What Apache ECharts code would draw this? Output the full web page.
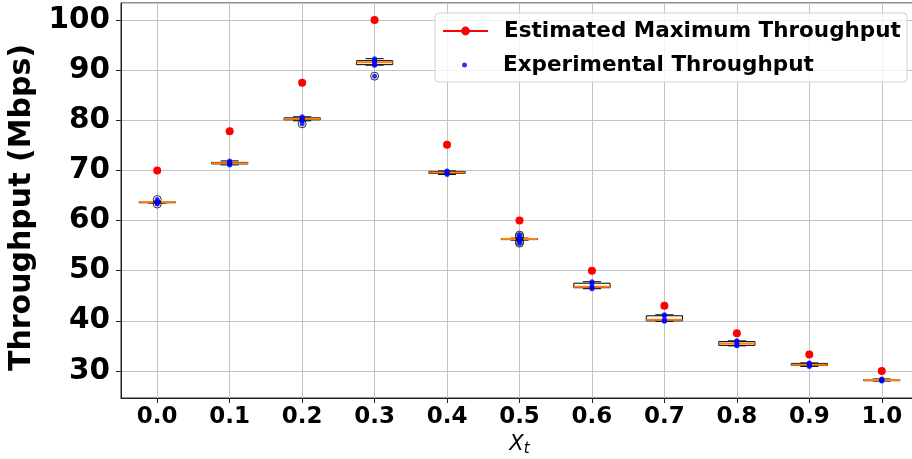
<!DOCTYPE html>
<html>
<head>
<meta charset="utf-8">
<script src="https://cdn.jsdelivr.net/npm/echarts@6/dist/echarts.min.js"></script>
<style>
  html, body { margin: 0; padding: 0; background: #fff; }
  #main { width: 912px; height: 459px; }
</style>
</head>
<body>
<div id="main"></div>
<script>
// x positions (X_t)
var xLabels = ['0.0', '0.1', '0.2', '0.3', '0.4', '0.5', '0.6', '0.7', '0.8', '0.9', '1.0'];

// estimated maximum throughput (red dots)
var estMax = [70.0, 77.8, 87.5, 100.0, 75.1, 60.0, 50.0, 43.0, 37.5, 33.3, 30.0];

// box plot stats of the experimental runs
var boxLow  = [63.5, 71.1, 79.9, 91.0, 69.2, 56.1, 46.4, 39.9, 35.0, 30.9, 28.0];
var boxQ1   = [63.6, 71.3, 80.1, 91.1, 69.4, 56.2, 46.6, 40.0, 35.1, 31.1, 28.1];
var boxMed  = [63.7, 71.45, 80.3, 91.6, 69.6, 56.3, 46.8, 40.2, 35.45, 31.25, 28.2];
var boxQ3   = [63.75, 71.6, 80.5, 91.9, 69.8, 56.4, 47.5, 41.0, 35.85, 31.5, 28.25];
var boxHigh = [63.8, 71.9, 80.7, 92.3, 69.9, 56.5, 47.8, 41.2, 36.0, 31.6, 28.4];

// fliers
var outliers = [[64.2, 63.3], [], [79.3], [88.8], [], [57.1, 56.8, 55.8, 55.5], [], [], [], [], []];

// experimental throughput samples (blue dots)
var expPoints = [
    [63.5, 63.6, 63.7, 63.7, 63.8, 64.2, 63.3],
    [71.1, 71.3, 71.4, 71.5, 71.6, 71.9],
    [79.9, 80.1, 80.3, 80.4, 80.7, 79.3],
    [91.0, 91.1, 91.6, 91.9, 92.3, 88.8],
    [69.2, 69.4, 69.6, 69.8, 69.9],
    [56.1, 56.2, 56.3, 56.4, 56.5, 57.1, 56.8, 55.8, 55.5],
    [46.4, 46.6, 46.8, 47.5, 47.8],
    [39.9, 40.0, 40.2, 41.0, 41.2],
    [35.0, 35.1, 35.45, 35.85, 36.0],
    [30.9, 31.1, 31.25, 31.5, 31.6],
    [28.0, 28.1, 28.2, 28.25, 28.4]
];

var FONT = 'DejaVu Sans';

var boxData = [];
var estData = [];
var outData = [];
var expData = [];
for (var i = 0; i < xLabels.length; i++) {
    boxData.push([i, boxLow[i], boxQ1[i], boxMed[i], boxQ3[i], boxHigh[i]]);
    estData.push([i, estMax[i]]);
    for (var j = 0; j < outliers[i].length; j++) outData.push([i, outliers[i][j]]);
    for (var k = 0; k < expPoints[i].length; k++) expData.push([i, expPoints[i][k]]);
}

// matplotlib-like box: white box, black whiskers/caps, orange median
function renderBox(params, api) {
    var x = api.value(0);
    var lo = api.coord([x, api.value(1)]);
    var q1 = api.coord([x, api.value(2)]);
    var med = api.coord([x, api.value(3)]);
    var q3 = api.coord([x, api.value(4)]);
    var hi = api.coord([x, api.value(5)]);
    var w = api.size([1, 0])[0] * 0.5;
    var cx = lo[0];
    var blk = {stroke: '#000', lineWidth: 1};
    return {
        type: 'group',
        children: [
            {type: 'line', shape: {x1: cx, y1: q1[1], x2: cx, y2: lo[1]}, style: blk},
            {type: 'line', shape: {x1: cx, y1: q3[1], x2: cx, y2: hi[1]}, style: blk},
            {type: 'line', shape: {x1: cx - w / 4, y1: lo[1], x2: cx + w / 4, y2: lo[1]}, style: blk},
            {type: 'line', shape: {x1: cx - w / 4, y1: hi[1], x2: cx + w / 4, y2: hi[1]}, style: blk},
            {type: 'rect', shape: {x: cx - w / 2, y: q3[1], width: w, height: Math.max(q1[1] - q3[1], 1)},
                style: {fill: '#fff', stroke: '#000', lineWidth: 1}},
            {type: 'line', shape: {x1: cx - w / 2, y1: med[1], x2: cx + w / 2, y2: med[1]},
                style: {stroke: '#ff7f0e', lineWidth: 2}}
        ]
    };
}

var myChart = echarts.init(document.getElementById('main'));

var option = {
    backgroundColor: '#fff',
    animation: false,
    grid: {
        left: 121, right: -6, top: 3, bottom: 61,
        outerBoundsMode: 'none', containLabel: false,
        show: true, borderColor: '#222', borderWidth: 1
    },
    graphic: [{
        type: 'rect', z: 3,
        shape: {x: 435, y: 13, width: 472, height: 69, r: 4},
        style: {fill: 'rgba(255,255,255,0.8)', stroke: '#d0d0d0', lineWidth: 1}
    }],
    legend: [{
        orient: 'vertical', left: 442, top: 20, padding: 0,
        itemWidth: 45, itemHeight: 11,
        data: [{name: 'Estimated Maximum Throughput', lineStyle: {width: 2, color: '#ff0000', opacity: 1}}],
        textStyle: {fontFamily: FONT, fontWeight: 'bold', fontSize: 21.5, color: '#000', padding: [0, 0, 0, 11]}
    }, {
        orient: 'vertical', left: 462, top: 54, padding: 0,
        itemWidth: 45, itemHeight: 5,
        data: ['Experimental Throughput'],
        textStyle: {fontFamily: FONT, fontWeight: 'bold', fontSize: 21.5, color: '#000', padding: [0, 0, 0, 11]}
    }],
    xAxis: {
        type: 'value',
        min: -0.5, max: 10.5,
        minInterval: 1, maxInterval: 1,
        name: '{x|X}{t|t}',
        nameLocation: 'middle',
        nameGap: 30,
        nameTextStyle: {
            rich: {
                x: {fontFamily: FONT, fontStyle: 'italic', fontSize: 21, color: '#000'},
                t: {fontFamily: FONT, fontStyle: 'italic', fontSize: 15, color: '#000', padding: [10, 0, 0, 0]}
            }
        },
        axisLine: {onZero: false, lineStyle: {color: '#222'}},
        axisTick: {length: 5, lineStyle: {color: '#222'}},
        axisLabel: {
            fontFamily: FONT, fontWeight: 'bold', fontSize: 23, color: '#000', margin: 8,
            showMinLabel: false, showMaxLabel: false,
            formatter: function (v) {
                var r = Math.round(v);
                return Math.abs(v - r) < 1e-6 && r >= 0 && r < xLabels.length ? xLabels[r] : '';
            }
        },
        splitLine: {show: true, lineStyle: {color: '#c4c4c4', width: 1}}
    },
    yAxis: {
        type: 'value',
        min: 24.6, max: 103.4,
        minInterval: 10, maxInterval: 10,
        name: 'Throughput (Mbps)',
        nameLocation: 'middle',
        nameGap: 81,
        nameTextStyle: {fontFamily: FONT, fontWeight: 'bold', fontSize: 30, color: '#000', padding: [0, 14, 0, 0]},
        axisLine: {show: true, onZero: false, lineStyle: {color: '#222'}},
        axisTick: {show: true, length: 5, lineStyle: {color: '#222'}},
        axisLabel: {
            fontFamily: FONT, fontWeight: 'bold', fontSize: 29.5, color: '#000', margin: 11,
            showMinLabel: false, showMaxLabel: false,
            formatter: function (v) {
                return Math.abs(v % 10) < 1e-6 ? String(v) : '';
            }
        },
        splitLine: {show: true, lineStyle: {color: '#c4c4c4', width: 1}}
    },
    series: [
        {
            name: 'box',
            type: 'custom',
            renderItem: renderBox,
            encode: {x: 0, y: [1, 2, 3, 4, 5]},
            data: boxData,
            z: 2
        },
        {
            name: 'outliers',
            type: 'scatter',
            symbol: 'circle',
            symbolSize: 8,
            itemStyle: {color: 'rgba(0,0,0,0)', borderColor: '#000', borderWidth: 1},
            data: outData,
            z: 3
        },
        {
            name: 'Experimental Throughput',
            type: 'scatter',
            symbol: 'circle',
            symbolSize: 5,
            itemStyle: {color: '#0000ff'},
            data: expData,
            z: 4
        },
        {
            name: 'Estimated Maximum Throughput',
            type: 'line',
            symbol: 'circle',
            symbolSize: 8,
            showSymbol: true,
            lineStyle: {width: 0, color: '#ff0000'},
            itemStyle: {color: '#ff0000'},
            data: estData,
            z: 5
        }
    ]
};

myChart.setOption(option);
</script>
</body>
</html>
